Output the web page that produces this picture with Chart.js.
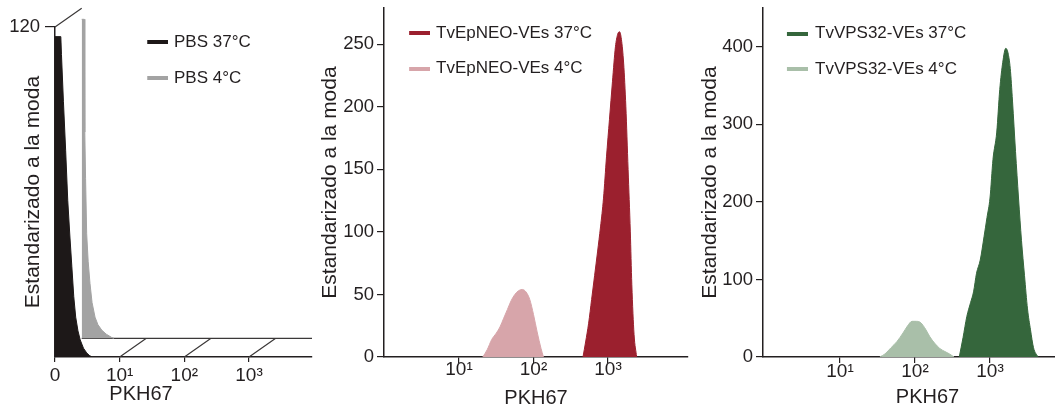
<!DOCTYPE html>
<html><head><meta charset="utf-8">
<script src="https://cdn.jsdelivr.net/npm/chart.js@4.4.1/dist/chart.umd.min.js"></script>
<style>
html,body{margin:0;padding:0;background:#fff;overflow:hidden;width:1055px;height:411px;position:relative;}
canvas{position:absolute;top:0;}
</style></head><body>
<canvas id="c1" width="320" height="411" style="left:0px;width:320px;height:411px"></canvas>
<canvas id="c2" width="395" height="411" style="left:300px;width:395px;height:411px"></canvas>
<canvas id="c3" width="410" height="411" style="left:690px;width:410px;height:411px"></canvas>
<script>
// ---------------- DATA ----------------
// Panel 1 (offset histogram). X in display decades (0 = "0", 1 = 10^1 ...)
const pbsLabels = ['PBS 37°C', 'PBS 4°C'];
const pbs37X = [0, 0.09, 0.10, 0.13, 0.165, 0.197, 0.23, 0.26, 0.29, 0.32, 0.355, 0.39, 0.44, 0.49, 0.53, 0.57];
const pbs37Y = [116.5, 116.5, 110, 93, 75, 57, 44, 33, 22, 14.5, 9.5, 6.2, 3.2, 1.5, 0.6, 0];
const pbs4X = [0, 0.04, 0.045, 0.051, 0.06, 0.077, 0.10, 0.128, 0.16, 0.206, 0.25, 0.309, 0.38, 0.464, 0.5];
const pbs4Y = [116, 116, 100, 75, 58, 38, 28, 20, 13, 7.7, 5, 3, 1.5, 0.3, 0];
const p1XTickValues = [0, 1, 2, 3];
const p1XTickLabels = ['0', '10¹', '10²', '10³'];
const p1YTickValues = [120];

// Panel 2
const neoLabels = ['TvEpNEO-VEs 37°C', 'TvEpNEO-VEs 4°C'];
const neo37X = [462, 501, 550, 603, 661, 724, 794, 871, 955, 1047, 1148, 1259, 1349, 1429, 1514, 1622, 1738, 1862, 1995, 2089, 2239, 2427];
const neo37Y = [0, 12, 27, 46, 65, 84, 104, 127, 160, 190, 220, 248, 258, 260, 254, 235, 200, 150, 100, 58, 18, 0];
const neo4X = [20.9, 24.0, 27.5, 31.6, 35.5, 39.8, 44.7, 50.1, 56.2, 63.1, 70.8, 79.4, 89.1, 100, 112, 126, 136];
const neo4Y = [0, 6, 14, 19, 24, 31, 38, 45, 50, 53, 54, 52, 46, 34, 20, 7, 0];
const neoYTicks = [0, 50, 100, 150, 200, 250];

// Panel 3
const vpsLabels = ['TvVPS32-VEs 37°C', 'TvVPS32-VEs 4°C'];
const vps37X = [389, 437, 490, 550, 603, 661, 741, 832, 912, 1000, 1096, 1230, 1349, 1479, 1622, 1738, 1862, 1995, 2188, 2399, 2630, 2884, 3162, 3467, 3802, 4365];
const vps37Y = [0, 25, 52, 70, 84, 108, 125, 155, 180, 205, 255, 290, 345, 380, 398, 392, 372, 330, 265, 205, 150, 105, 62, 35, 12, 0];
const vps4X = [33.9, 39.8, 47.9, 57.5, 69.2, 79.4, 91.2, 105, 120, 138, 158, 182, 214, 251, 288, 331];
const vps4Y = [0, 4, 12, 20, 31, 40, 46, 46, 44, 36, 26, 18, 11, 7, 4, 0];
const vpsYTicks = [0, 100, 200, 300, 400];

const logTickValues = [10, 100, 1000];
const logTickLabels = ['10¹', '10²', '10³'];
const xTitle = 'PKH67';
const yTitle = 'Estandarizado a la moda';

// ---------------- STYLE ----------------
const FONT = "'Liberation Sans', Arial, Helvetica, sans-serif";
const INK = '#231f20';
const COLORS = {pbs37: '#1d1818', pbs4: '#a3a3a3', neo37: '#9b202e', neo4: '#d7a5aa', vps37: '#35663c', vps4: '#a9bfa9'};
Chart.defaults.font.family = FONT;
Chart.defaults.color = INK;
Chart.defaults.animation = false;

function pts(xs, ys) { return xs.map((x, i) => ({x: x, y: ys[i]})); }
function zeroPad(s) { s.paddingTop = 0; s.paddingBottom = 0; s.paddingLeft = 0; s.paddingRight = 0; }

function markerCanvas(color, w, barLen, h) {
  const c = document.createElement('canvas');
  c.width = Math.max(1, Math.round(w)); c.height = h;
  const g = c.getContext('2d');
  g.fillStyle = color;
  g.fillRect(c.width - barLen, 0, barLen, h);
  return c;
}

function legendOpts(L) {
  const fontSize = 17;
  const pad = L.spacing - fontSize;
  const x0 = L.plotLeft + pad;
  const boxW = L.textX - x0 - fontSize / 2;
  const cx = x0 + boxW / 2;
  const wc = 2 * (L.barRight - cx);
  const titleH = L.firstCenterY - fontSize / 2 - L.plotTop - pad;
  return {
    display: true, position: 'chartArea', align: 'start',
    title: {display: true, text: '', padding: 0, font: {size: titleH, lineHeight: 1}},
    labels: {
      font: {size: fontSize, family: FONT}, color: INK, padding: pad, usePointStyle: true,
      pointStyleWidth: boxW, textAlign: 'left',
      generateLabels: (chart) => chart.data.datasets.map((ds, i) => ({
        text: ds.label, fillStyle: ds.backgroundColor, strokeStyle: ds.backgroundColor, lineWidth: 0,
        pointStyle: markerCanvas(ds.backgroundColor, wc, L.barRight - L.barLeft, 4),
        hidden: false, datasetIndex: i, fontColor: INK, textAlign: 'left'
      }))
    }
  };
}

function ds(label, data, color, xId, yId, tension) {
  return {label, data, xAxisID: xId, yAxisID: yId, backgroundColor: color, borderColor: color,
    borderWidth: 1, pointRadius: 0, pointHoverRadius: 0, fill: 'origin',
    tension: tension, cubicInterpolationMode: tension ? 'monotone' : 'default'};
}

const axisBorder = {display: true, color: INK, width: 1.5};

// ---------------- PANEL 1 ----------------
const P1_X_MAX = 3.974;          // chart area width in decade units
const P1_PX_PER_X = 257 / P1_X_MAX;
const P1_PX_PER_Y = 330 / 120;
const BACK_DX = 26.7, BACK_DY = 18.7, P1_AREA_H = 350;
const X2_MIN = -BACK_DX / P1_PX_PER_X, X2_MAX = X2_MIN + P1_X_MAX;
const Y2_MIN = -BACK_DY / P1_PX_PER_Y, Y2_MAX = Y2_MIN + P1_AREA_H / P1_PX_PER_Y;

const offsetPlot = {
  id: 'offsetPlot',
  beforeDatasetsDraw(chart) {
    const {ctx} = chart; const {x, y, x2, y2} = chart.scales;
    ctx.save();
    ctx.strokeStyle = '#3b3838'; ctx.lineWidth = 1.2;
    ctx.beginPath();
    ctx.moveTo(x2.getPixelForValue(0), y2.getPixelForValue(0));
    ctx.lineTo(x.right, y2.getPixelForValue(0));
    p1XTickValues.slice(1).forEach(v => {
      ctx.moveTo(x.getPixelForValue(v), y.getPixelForValue(0));
      ctx.lineTo(x2.getPixelForValue(v), y2.getPixelForValue(0));
    });
    const top = p1YTickValues[p1YTickValues.length - 1];
    ctx.moveTo(x.getPixelForValue(0), y.getPixelForValue(top));
    ctx.lineTo(x2.getPixelForValue(0), y2.getPixelForValue(top));
    ctx.stroke();
    ctx.restore();
  }
};

new Chart(document.getElementById('c1'), {
  type: 'line',
  data: {datasets: [
    ds(pbsLabels[0], pts(pbs37X, pbs37Y), COLORS.pbs37, 'x', 'y', 0),
    ds(pbsLabels[1], pts(pbs4X, pbs4Y), COLORS.pbs4, 'x2', 'y2', 0)
  ]},
  options: {
    responsive: false, devicePixelRatio: 1, animation: false,
    layout: {padding: {left: 0, top: 7, right: 8, bottom: 0}},
    plugins: {
      tooltip: {enabled: false},
      legend: legendOpts({plotLeft: 55, plotTop: 7, firstCenterY: 49, spacing: 36, barLeft: 147, barRight: 168, textX: 174})
    },
    scales: {
      x: {type: 'linear', axis: 'x', position: 'bottom', weight: 0, min: 0, max: P1_X_MAX,
        afterBuildTicks: s => { s.ticks = p1XTickValues.map(v => ({value: v})); },
        afterFit: s => { s.height = 30; zeroPad(s); },
        ticks: {callback: (v, i) => p1XTickLabels[i], font: {size: 19, lineHeight: 1}, padding: 4.5, maxRotation: 0, autoSkip: false, color: INK},
        grid: {display: true, drawOnChartArea: false, drawTicks: true, tickLength: 5, color: INK, tickColor: INK, lineWidth: 1.2, tickWidth: 1.2},
        border: axisBorder},
      x2: {type: 'linear', axis: 'x', position: 'bottom', weight: 1, display: false, min: X2_MIN, max: X2_MAX},
      xt: {type: 'linear', axis: 'x', position: 'bottom', weight: 2, stack: 'ttl', stackWeight: 172,
        ticks: {display: false}, grid: {display: false, drawTicks: false}, border: {display: false},
        title: {display: true, text: xTitle, font: {size: 20}, color: INK, padding: {top: 0, bottom: 4.5}},
        afterFit: s => { s.height = 24; zeroPad(s); }},
      xp: {type: 'linear', axis: 'x', position: 'bottom', weight: 3, stack: 'ttl', stackWeight: 85, display: false},
      ypad: {type: 'linear', axis: 'y', position: 'left', weight: 3, stack: 'lft', stackWeight: 20, display: false},
      y: {type: 'linear', axis: 'y', position: 'left', weight: 2, stack: 'lft', stackWeight: 330, min: 0, max: 120,
        afterBuildTicks: s => { s.ticks = p1YTickValues.map(v => ({value: v})); },
        afterFit: s => { s.width = 55; zeroPad(s); },
        ticks: {font: {size: 18.5}, padding: 5, color: INK},
        grid: {display: true, drawOnChartArea: false, drawTicks: true, tickLength: 10, color: INK, tickColor: INK, lineWidth: 1.2, tickWidth: 1.2},
        border: axisBorder,
        title: {display: true, text: yTitle, font: {size: 21}, color: INK, padding: {top: 20.4, bottom: 0}}},
      y2: {type: 'linear', axis: 'y', position: 'left', weight: 1, display: false, min: Y2_MIN, max: Y2_MAX}
    }
  },
  plugins: [offsetPlot]
});

// ---------------- PANELS 2 & 3 ----------------
function logPanel(id, labels, d37, d4, c37, c4, yTicks, cfg) {
  new Chart(document.getElementById(id), {
    type: 'line',
    data: {datasets: [
      ds(labels[0], d37, c37, 'x', 'y', 0.3),
      ds(labels[1], d4, c4, 'x', 'y', 0.3)
    ]},
    options: {
      responsive: false, devicePixelRatio: 1, animation: false,
      layout: {padding: {left: 0, top: cfg.top, right: cfg.right, bottom: 0}},
      plugins: {tooltip: {enabled: false}, legend: legendOpts(cfg.legend)},
      scales: {
        x: {type: 'logarithmic', position: 'bottom', min: cfg.xMin, max: cfg.xMax,
          afterBuildTicks: s => { s.ticks = logTickValues.map(v => ({value: v})); },
          afterFit: s => { s.height = 54; zeroPad(s); },
          ticks: {callback: (v, i) => logTickLabels[i], font: {size: 19, lineHeight: 1}, padding: cfg.xTickPad, maxRotation: 0, autoSkip: false, color: INK},
          grid: {display: true, drawOnChartArea: false, drawTicks: true, tickLength: 6, color: INK, tickColor: INK, lineWidth: 1.2, tickWidth: 1.2},
          border: axisBorder,
          title: {display: true, text: xTitle, font: {size: 20}, color: INK, padding: {top: 0, bottom: cfg.xTitlePad}}},
        y: {type: 'linear', position: 'left', min: 0, max: cfg.yMax,
          afterBuildTicks: s => { s.ticks = yTicks.map(v => ({value: v})); },
          afterFit: s => { s.width = cfg.yWidth; zeroPad(s); },
          ticks: {font: {size: 18.5}, padding: 3, color: INK},
          grid: {display: true, drawOnChartArea: false, drawTicks: true, tickLength: 7, color: INK, tickColor: INK, lineWidth: 1.2, tickWidth: 1.2},
          border: axisBorder,
          title: {display: true, text: yTitle, font: {size: 21}, color: INK, padding: {top: cfg.yTitlePad, bottom: 0}}}
      }
    }
  });
}

logPanel('c2', neoLabels, pts(neo37X, neo37Y), pts(neo4X, neo4Y), COLORS.neo37, COLORS.neo4, neoYTicks, {
  top: 8, right: 7, xMin: 0.985, xMax: 11860, yMax: 279, yWidth: 84, yTitlePad: 17.4, xTitlePad: 0.2, xTickPad: -2.5,
  legend: {plotLeft: 384, plotTop: 8, firstCenterY: 41, spacing: 35.7, barLeft: 409, barRight: 430, textX: 436}
});
logPanel('c3', vpsLabels, pts(vps37X, vps37Y), pts(vps4X, vps4Y), COLORS.vps37, COLORS.vps4, vpsYTicks, {
  top: 8, right: 8, xMin: 0.94, xMax: 22900, yMax: 450, yWidth: 73, yTitlePad: 8.1, xTitlePad: 1.5, xTickPad: -0.5,
  legend: {plotLeft: 763, plotTop: 8, firstCenterY: 41.7, spacing: 35.3, barLeft: 787, barRight: 808, textX: 815}
});
</script>
</body></html>
